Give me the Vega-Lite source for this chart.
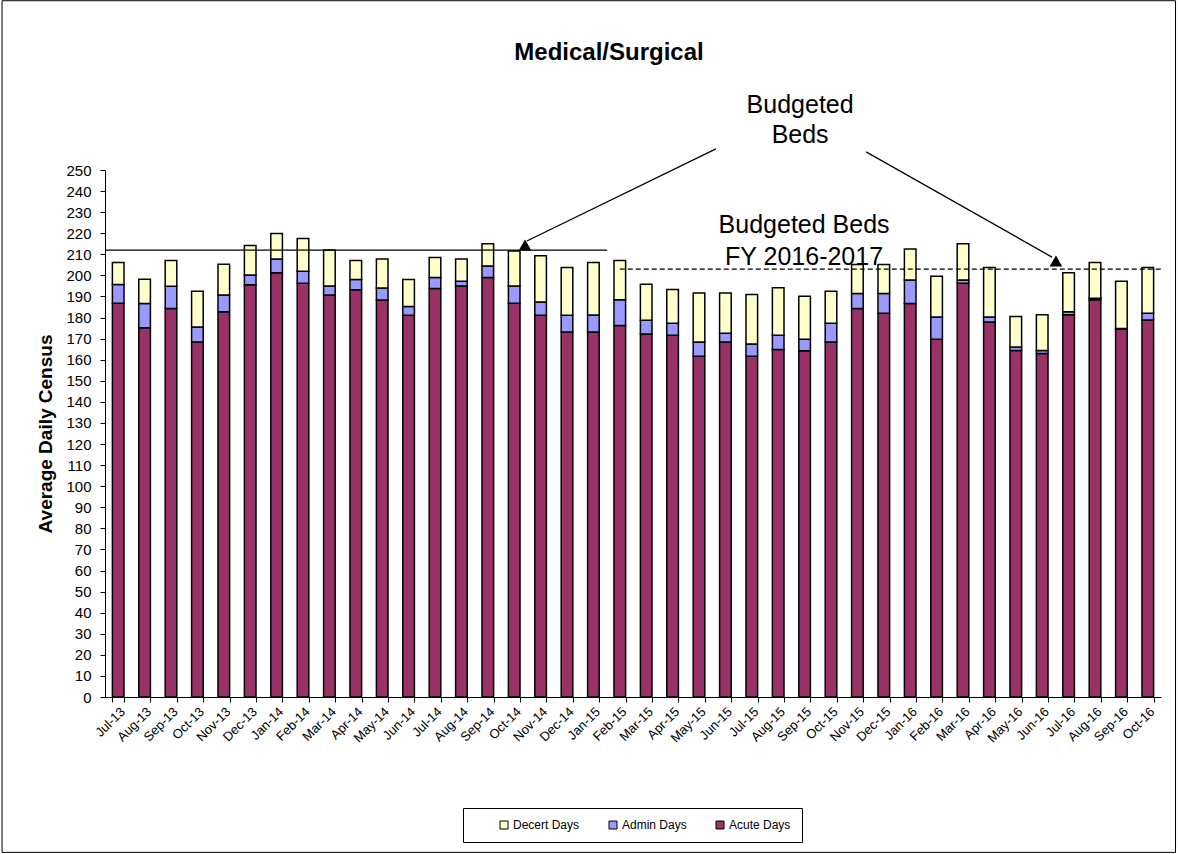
{
  "$schema": "https://vega.github.io/schema/vega-lite/v6.json",
  "width": 1056,
  "height": 527,
  "autosize": {"type": "none"},
  "padding": {"left": 105, "top": 170, "right": 17, "bottom": 157},
  "background": "white",
  "config": {
    "view": {"stroke": null},
    "font": "Liberation Sans",
    "axis": {"labelFont": "Liberation Sans", "titleFont": "Liberation Sans", "labelColor": "black", "titleColor": "black", "domainColor": "black", "tickColor": "black", "grid": false}
  },
  "title": {"text": "Medical/Surgical", "font": "Liberation Sans", "fontSize": 24, "fontWeight": "bold", "color": "black", "anchor": "middle", "offset": -65, "dx": -24},
  "resolve": {"scale": {"x": "independent"}, "axis": {"x": "independent", "y": "independent"}},
  "layer": [
    {
      "data": {"values": [
        {"month": "Jul-13", "Acute": 186.8, "Admin": 8.9, "Decert": 10.4},
        {"month": "Aug-13", "Acute": 175.2, "Admin": 11.5, "Decert": 11.5},
        {"month": "Sep-13", "Acute": 184.3, "Admin": 10.5, "Decert": 12.3},
        {"month": "Oct-13", "Acute": 168.4, "Admin": 7.1, "Decert": 17.0},
        {"month": "Nov-13", "Acute": 182.8, "Admin": 7.9, "Decert": 14.6},
        {"month": "Dec-13", "Acute": 195.6, "Admin": 4.6, "Decert": 14.0},
        {"month": "Jan-14", "Acute": 201.2, "Admin": 6.6, "Decert": 12.1},
        {"month": "Feb-14", "Acute": 196.3, "Admin": 5.7, "Decert": 15.5},
        {"month": "Mar-14", "Acute": 190.7, "Admin": 4.3, "Decert": 17.0},
        {"month": "Apr-14", "Acute": 193.2, "Admin": 4.9, "Decert": 9.0},
        {"month": "May-14", "Acute": 188.3, "Admin": 5.7, "Decert": 13.8},
        {"month": "Jun-14", "Acute": 181.1, "Admin": 4.1, "Decert": 12.8},
        {"month": "Jul-14", "Acute": 193.8, "Admin": 5.2, "Decert": 9.5},
        {"month": "Aug-14", "Acute": 195.0, "Admin": 2.2, "Decert": 10.6},
        {"month": "Sep-14", "Acute": 199.0, "Admin": 5.5, "Decert": 10.5},
        {"month": "Oct-14", "Acute": 186.8, "Admin": 8.2, "Decert": 16.6},
        {"month": "Nov-14", "Acute": 181.1, "Admin": 6.3, "Decert": 21.9},
        {"month": "Dec-14", "Acute": 173.2, "Admin": 7.9, "Decert": 22.6},
        {"month": "Jan-15", "Acute": 173.2, "Admin": 8.0, "Decert": 24.9},
        {"month": "Feb-15", "Acute": 176.2, "Admin": 12.2, "Decert": 18.7},
        {"month": "Mar-15", "Acute": 172.2, "Admin": 6.5, "Decert": 17.1},
        {"month": "Apr-15", "Acute": 171.6, "Admin": 5.7, "Decert": 16.0},
        {"month": "May-15", "Acute": 161.7, "Admin": 6.7, "Decert": 23.3},
        {"month": "Jun-15", "Acute": 168.4, "Admin": 4.1, "Decert": 19.2},
        {"month": "Jul-15", "Acute": 161.7, "Admin": 5.8, "Decert": 23.4},
        {"month": "Aug-15", "Acute": 164.9, "Admin": 6.7, "Decert": 22.5},
        {"month": "Sep-15", "Acute": 164.3, "Admin": 5.4, "Decert": 20.4},
        {"month": "Oct-15", "Acute": 168.4, "Admin": 8.9, "Decert": 15.2},
        {"month": "Nov-15", "Acute": 184.3, "Admin": 7.1, "Decert": 13.8},
        {"month": "Dec-15", "Acute": 182.0, "Admin": 9.4, "Decert": 13.8},
        {"month": "Jan-16", "Acute": 186.7, "Admin": 11.1, "Decert": 14.7},
        {"month": "Feb-16", "Acute": 169.7, "Admin": 10.6, "Decert": 19.3},
        {"month": "Mar-16", "Acute": 196.3, "Admin": 1.5, "Decert": 17.2},
        {"month": "Apr-16", "Acute": 177.9, "Admin": 2.4, "Decert": 23.4},
        {"month": "May-16", "Acute": 164.4, "Admin": 1.6, "Decert": 14.5},
        {"month": "Jun-16", "Acute": 163.0, "Admin": 1.4, "Decert": 16.9},
        {"month": "Jul-16", "Acute": 181.3, "Admin": 1.5, "Decert": 18.5},
        {"month": "Aug-16", "Acute": 188.4, "Admin": 0.8, "Decert": 16.9},
        {"month": "Sep-16", "Acute": 174.5, "Admin": 0.3, "Decert": 22.4},
        {"month": "Oct-16", "Acute": 178.9, "Admin": 3.1, "Decert": 21.7}
      ]},
      "transform": [{"fold": ["Acute", "Admin", "Decert"], "as": ["cat", "days"]}],
      "mark": {"type": "bar", "stroke": "black", "strokeWidth": 1.5},
      "encoding": {
        "x": {"field": "month", "type": "ordinal", "sort": null,
              "scale": {"paddingInner": 0.56, "paddingOuter": 0.28},
              "axis": {"title": null, "labelAngle": -45, "tickBand": "extent", "labelFontSize": 13, "tickSize": 5, "labelPadding": 3, "labelOverlap": false}},
        "y": {"field": "days", "type": "quantitative", "stack": "zero",
              "scale": {"domain": [0, 250], "nice": false},
              "axis": {"title": "Average Daily Census", "titleFontSize": 19, "titleFontWeight": "bold", "titlePadding": 10,
                       "values": [0,10,20,30,40,50,60,70,80,90,100,110,120,130,140,150,160,170,180,190,200,210,220,230,240,250],
                       "labelFontSize": 15, "tickSize": 5, "labelPadding": 9, "labelOverlap": false, "labelFlush": false}},
        "color": {"field": "cat", "type": "nominal",
                  "scale": {"domain": ["Decert", "Admin", "Acute"], "range": ["#FFFFCC", "#9999FF", "#993366"]},
                  "legend": {"title": null, "orient": "none", "legendX": 358, "legendY": 638, "direction": "horizontal",
                             "strokeColor": "black", "fillColor": "white", "padding": 11, "symbolType": "square", "symbolSize": 64,
                             "symbolStrokeColor": "black", "symbolStrokeWidth": 1, "labelFontSize": 12, "labelColor": "black",
                             "symbolOffset": 24, "columnPadding": 3, "labelOffset": 3, "labelExpr": "datum.label + ' Days'"}},
        "order": {"field": "cat", "sort": "ascending"}
      }
    },
    {
      "data": {"values": [{}]},
      "mark": {"type": "rect", "fill": null, "fillOpacity": 0, "stroke": "black", "strokeWidth": 1},
      "encoding": {
        "x": {"datum": -3.9, "type": "quantitative", "scale": {"domain": [0, 40]}, "axis": null},
        "x2": {"datum": 40.55},
        "y": {"datum": -73.7, "type": "quantitative", "axis": null},
        "y2": {"datum": 330.3}
      }
    },
    {
      "data": {"values": [{}]},
      "mark": {"type": "rule", "color": "black", "strokeWidth": 1.3},
      "encoding": {
        "x": {"datum": 0, "type": "quantitative", "scale": {"domain": [0, 40]}, "axis": null},
        "x2": {"datum": 19.02},
        "y": {"datum": 212, "type": "quantitative", "axis": null}
      }
    },
    {
      "data": {"values": [{}]},
      "mark": {"type": "rule", "color": "black", "strokeWidth": 1.3, "strokeDash": [5, 3]},
      "encoding": {
        "x": {"datum": 19.5, "type": "quantitative", "scale": {"domain": [0, 40]}, "axis": null},
        "x2": {"datum": 40},
        "y": {"datum": 203, "type": "quantitative", "axis": null}
      }
    },
    {
      "data": {"values": [{}]},
      "mark": {"type": "rule", "color": "black", "strokeWidth": 1.3},
      "encoding": {
        "x": {"datum": 23.14, "type": "quantitative", "scale": {"domain": [0, 40]}, "axis": null},
        "x2": {"datum": 15.98},
        "y": {"datum": 260.0, "type": "quantitative", "axis": null},
        "y2": {"datum": 216.3}
      }
    },
    {
      "data": {"values": [{}]},
      "mark": {"type": "rule", "color": "black", "strokeWidth": 1.3},
      "encoding": {
        "x": {"datum": 28.83, "type": "quantitative", "scale": {"domain": [0, 40]}, "axis": null},
        "x2": {"datum": 35.87},
        "y": {"datum": 258.6, "type": "quantitative", "axis": null},
        "y2": {"datum": 208.7}
      }
    },
    {
      "data": {"values": [{}]},
      "mark": {"type": "point", "shape": "triangle-up", "filled": true, "color": "black", "opacity": 1, "size": 160},
      "encoding": {
        "x": {"datum": 15.91, "type": "quantitative", "scale": {"domain": [0, 40]}, "axis": null},
        "y": {"datum": 214.4, "type": "quantitative", "axis": null}
      }
    },
    {
      "data": {"values": [{}]},
      "mark": {"type": "point", "shape": "triangle-up", "filled": true, "color": "black", "opacity": 1, "size": 160},
      "encoding": {
        "x": {"datum": 36.02, "type": "quantitative", "scale": {"domain": [0, 40]}, "axis": null},
        "y": {"datum": 206.8, "type": "quantitative", "axis": null}
      }
    },
    {
      "data": {"values": [{}]},
      "mark": {"type": "text", "text": ["Budgeted", "Beds"], "font": "Liberation Sans", "fontSize": 25, "lineHeight": 30, "align": "center", "baseline": "middle", "color": "black"},
      "encoding": {
        "x": {"datum": 26.33, "type": "quantitative", "scale": {"domain": [0, 40]}, "axis": null},
        "y": {"datum": 280.9, "type": "quantitative", "axis": null}
      }
    },
    {
      "data": {"values": [{}]},
      "mark": {"type": "text", "text": ["Budgeted Beds", "FY 2016-2017"], "font": "Liberation Sans", "fontSize": 25, "lineHeight": 32, "align": "center", "baseline": "middle", "color": "black"},
      "encoding": {
        "x": {"datum": 26.48, "type": "quantitative", "scale": {"domain": [0, 40]}, "axis": null},
        "y": {"datum": 223.9, "type": "quantitative", "axis": null}
      }
    }
  ]
}
